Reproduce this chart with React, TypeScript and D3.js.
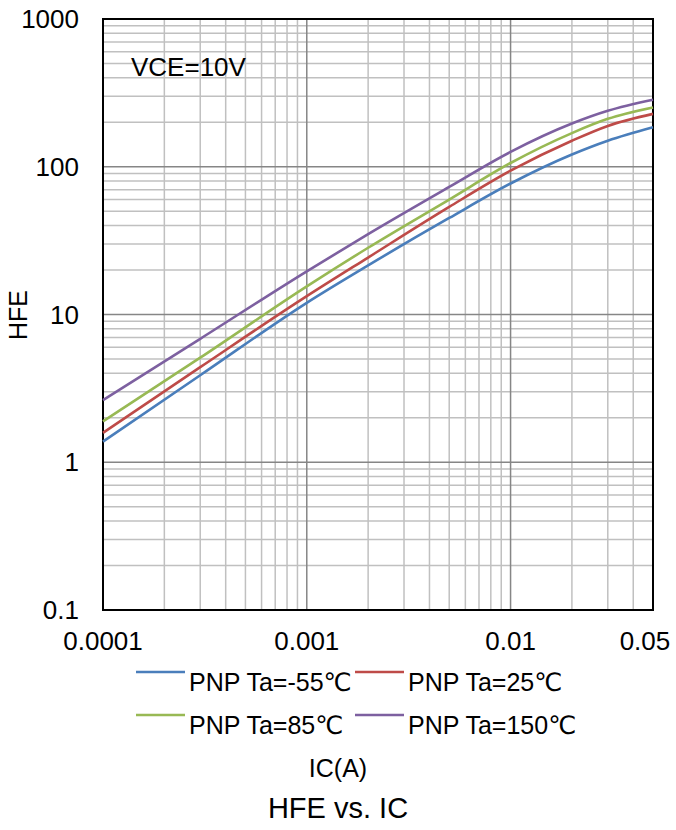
import React from "react";
import * as d3 from "d3";

const IC = [0.0001, 0.0003, 0.001, 0.002, 0.005, 0.01, 0.02, 0.03, 0.05];
const seriesNames = ["PNP Ta=-55℃", "PNP Ta=25℃", "PNP Ta=85℃", "PNP Ta=150℃"];
const seriesColors = ["#4a7ebb", "#be4b48", "#98b954", "#7d60a0"];
const hfeM55 = [1.38, 3.88, 12.0, 21.5, 45, 77, 121, 150, 185];
const hfe25 = [1.58, 4.4, 13.3, 24.3, 53.5, 94, 150, 189, 228];
const hfe85 = [1.89, 5.1, 15.5, 28.3, 60, 106, 169, 211, 252];
const hfe150 = [2.63, 6.85, 19.6, 35, 73, 126, 196, 239, 284];
const seriesValues = [hfeM55, hfe25, hfe85, hfe150];
const xTickValues = [0.0001, 0.001, 0.01, 0.05];
const xTickLabels = ["0.0001", "0.001", "0.01", "0.05"];
const yTickValues = [0.1, 1, 10, 100, 1000];
const yTickLabels = ["0.1", "1", "10", "100", "1000"];

const W = 676;
const H = 830;
const FONT = "'Liberation Sans', Arial, 'DejaVu Sans', sans-serif";

export default function App() {
  const left = 103, right = 653, top = 19, bottom = 610;
  const x = d3.scaleLog().domain([0.0001, 0.05]).range([left, right]);
  const y = d3.scaleLog().domain([0.1, 1000]).range([bottom, top]);

  const minorX: number[] = [];
  for (let e = -4; e <= -2; e++) {
    for (let m = 2; m <= 9; m++) {
      const v = m * Math.pow(10, e);
      if (v < 0.05 - 1e-9) minorX.push(v);
    }
  }
  const minorY: number[] = [];
  for (let e = -1; e <= 2; e++) {
    for (let m = 2; m <= 9; m++) minorY.push(m * Math.pow(10, e));
  }
  const majorX = [0.001, 0.01];
  const majorY = [1, 10, 100];

  const line = d3
    .line<number>()
    .x((_, i) => x(IC[i]))
    .y((d) => y(d))
    .curve(d3.curveMonotoneX);

  const legendRows = [
    [0, 1],
    [2, 3],
  ];
  const legendColX = [136, 355];
  const legendRowY = [672, 715];
  const tickFs = 26;

  return (
    <svg
      width={W}
      height={H}
      style={{ position: "absolute", left: 0, top: 0, background: "#fff" }}
      fontFamily={FONT}
    >
      <rect x={0} y={0} width={W} height={H} fill="#fff" />
      {minorX.map((v) => (
        <line key={"mx" + v} x1={x(v)} x2={x(v)} y1={top} y2={bottom} stroke="#c0c0c0" strokeWidth={1.5} />
      ))}
      {minorY.map((v) => (
        <line key={"my" + v} x1={left} x2={right} y1={y(v)} y2={y(v)} stroke="#c0c0c0" strokeWidth={1.5} />
      ))}
      {majorX.map((v) => (
        <line key={"Mx" + v} x1={x(v)} x2={x(v)} y1={top} y2={bottom} stroke="#868686" strokeWidth={1.5} />
      ))}
      {majorY.map((v) => (
        <line key={"My" + v} x1={left} x2={right} y1={y(v)} y2={y(v)} stroke="#868686" strokeWidth={1.5} />
      ))}
      <rect x={left} y={top} width={right - left} height={bottom - top} fill="none" stroke="#000" strokeWidth={2} />

      {seriesValues.map((vals, i) => (
        <path key={"s" + i} d={line(vals) || ""} fill="none" stroke={seriesColors[i]} strokeWidth={2.6} />
      ))}

      <text x={131} y={76} fontSize={26} fill="#000">VCE=10V</text>

      {yTickValues.map((v, i) => (
        <text key={"yt" + v} x={79} y={y(v)} fontSize={tickFs} textAnchor="end" dominantBaseline="central" fill="#000">
          {yTickLabels[i]}
        </text>
      ))}
      {xTickValues.map((v, i) => {
        const half = (xTickLabels[i].length * 0.52 * tickFs) / 2;
        const cx = Math.min(x(v), W - 4 - half);
        return (
          <text key={"xt" + v} x={cx} y={650} fontSize={tickFs} textAnchor="middle" fill="#000">
            {xTickLabels[i]}
          </text>
        );
      })}

      <text transform={`translate(27,315) rotate(-90)`} fontSize={25} textAnchor="middle" fill="#000">
        HFE
      </text>

      {legendRows.map((row, r) =>
        row.map((si, c) => (
          <g key={"lg" + si}>
            <line
              x1={legendColX[c]}
              x2={legendColX[c] + 49}
              y1={legendRowY[r]}
              y2={legendRowY[r]}
              stroke={seriesColors[si]}
              strokeWidth={2.6}
            />
            <text x={legendColX[c] + 53} y={legendRowY[r] + 19} fontSize={25} fill="#000">
              {seriesNames[si]}
            </text>
          </g>
        ))
      )}

      <text x={338} y={777} fontSize={25} textAnchor="middle" fill="#000">IC(A)</text>
      <text x={338} y={818} fontSize={29} textAnchor="middle" fill="#000">HFE vs. IC</text>
    </svg>
  );
}
